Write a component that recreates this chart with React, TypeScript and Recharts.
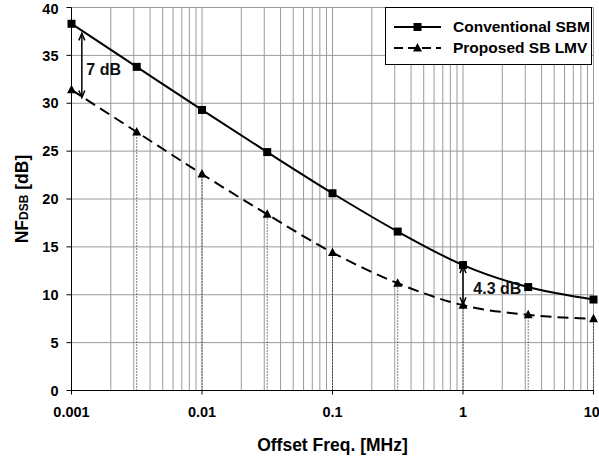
import React from 'react';
import { ComposedChart, Line, XAxis, YAxis, CartesianGrid, ReferenceLine, ReferenceDot, Legend, Label } from 'recharts';

const freqs = [0.001, 0.00316, 0.01, 0.0316, 0.1, 0.316, 1, 3.16, 10];
const conventionalSbm = [38.3, 33.8, 29.3, 24.9, 20.6, 16.6, 13.1, 10.8, 9.5];
const proposedSbLmv = [31.4, 27.0, 22.6, 18.4, 14.4, 11.2, 8.9, 7.9, 7.5];
const xTicks = [0.001, 0.01, 0.1, 1, 10];
const yTicks = [0, 5, 10, 15, 20, 25, 30, 35, 40];
const decades = [0.001, 0.01, 0.1, 1];
const minorSteps = [2, 3, 4, 5, 6, 7, 8, 9];

const data = freqs.map((f, i) => ({ freq: f, conventional: conventionalSbm[i], proposed: proposedSbLmv[i] }));
const gridFreqs = [...decades.flatMap((d) => minorSteps.map((m) => +(d * m).toPrecision(3))), ...decades.slice(1), 10];

const FONT = '"Liberation Sans", Arial, sans-serif';

const SquareDot = (props: any) => {
  const { cx, cy, index } = props;
  if (cx == null || cy == null) return <g key={index} />;
  return <rect key={index} x={cx - 4} y={cy - 4} width={8} height={8} fill="#000" />;
};

const TriangleDot = (props: any) => {
  const { cx, cy, index } = props;
  if (cx == null || cy == null) return <g key={index} />;
  return <polygon key={index} points={`${cx},${cy - 5} ${cx + 4.5},${cy + 3.5} ${cx - 4.5},${cy + 3.5}`} fill="#000" />;
};

const DoubleArrow = (props: any) => {
  const { x1, y1, y2 } = props;
  const top = Math.min(y1, y2);
  const bot = Math.max(y1, y2);
  return (
    <g stroke="#000" strokeWidth={1.5} fill="none">
      <line x1={x1} y1={top} x2={x1} y2={bot} />
      <polyline points={`${x1 - 3},${top + 7} ${x1},${top} ${x1 + 3},${top + 7}`} />
      <polyline points={`${x1 - 3},${bot - 7} ${x1},${bot} ${x1 + 3},${bot - 7}`} />
    </g>
  );
};

const noteText = (text: string) => (props: any) => (
  <text x={props.cx} y={props.cy} fontFamily={FONT} fontWeight="bold" fontSize={16} fill="#111">
    {text}
  </text>
);

const series = [
  { key: 'conventional', name: 'Conventional SBM', dash: undefined, marker: 'square' },
  { key: 'proposed', name: 'Proposed SB LMV', dash: '10 5', marker: 'triangle' },
];

const renderLegend = () => (
  <div style={{ width: 205, height: 56, border: '1px solid #000', background: '#fff', fontFamily: FONT, fontWeight: 'bold', fontSize: 15.5, boxSizing: 'content-box' }}>
    {series.map((s, i) => (
      <div key={s.key} style={{ display: 'flex', alignItems: 'center', height: 21, marginTop: i === 0 ? 8 : 0 }}>
        <svg width={60} height={14} style={{ marginLeft: 7 }}>
          <line x1={1} y1={7} x2={48} y2={7} stroke="#000" strokeWidth={2} strokeDasharray={s.dash ? '9 5' : undefined} />
          {s.marker === 'square' ? (
            <rect x={20.5} y={3} width={8} height={8} fill="#000" />
          ) : (
            <polygon points="24.5,2 29,10.5 20,10.5" fill="#000" />
          )}
        </svg>
        <span style={{ color: '#000' }}>{s.name}</span>
      </div>
    ))}
  </div>
);

export default function App() {
  return (
    <div style={{ position: 'absolute', left: 0, top: 0, background: '#fff' }}>
      <ComposedChart width={599} height={461} data={data} margin={{ top: 7.5, right: 5.5, left: 0, bottom: 0 }}>
        <CartesianGrid stroke="#9a9a9a" vertical={false} />
        <XAxis
          dataKey="freq"
          type="number"
          scale="log"
          domain={[0.001, 10]}
          ticks={xTicks}
          tickFormatter={(v) => String(v)}
          height={70.5}
          tickSize={4}
          tickMargin={12}
          stroke="#000"
          tick={{ fontFamily: FONT, fontWeight: 'bold', fontSize: 14.5, fill: '#000' }}
        >
          <Label
            content={(p: any) => (
              <text x={p.viewBox.x + p.viewBox.width / 2} y={451} textAnchor="middle" fontFamily={FONT} fontWeight="bold" fontSize={17.5} fill="#000">
                Offset Freq. [MHz]
              </text>
            )}
          />
        </XAxis>
        <YAxis
          type="number"
          domain={[0, 40]}
          ticks={yTicks}
          width={71.5}
          tickSize={5}
          tickMargin={8}
          stroke="#000"
          tick={{ fontFamily: FONT, fontWeight: 'bold', fontSize: 14.5, fill: '#000' }}
        >
          <Label
            content={(p: any) => {
              const x = 28;
              const y = p.viewBox.y + p.viewBox.height / 2;
              return (
                <text x={x} y={y} transform={`rotate(-90, ${x}, ${y})`} textAnchor="middle" fontFamily={FONT} fontWeight="bold" fontSize={17.5} fill="#000">
                  NF<tspan fontSize={12}>DSB</tspan> [dB]
                </text>
              );
            }}
          />
        </YAxis>
        {gridFreqs.map((f) => (
          <ReferenceLine key={`grid-${f}`} x={f} stroke="#9a9a9a" strokeWidth={1} />
        ))}
        {freqs.map((f, i) => (
          <ReferenceLine
            key={`drop-${f}`}
            segment={[{ x: f, y: 0 }, { x: f, y: proposedSbLmv[i] }]}
            stroke="#000"
            strokeWidth={1}
            strokeDasharray="1 2"
          />
        ))}
        <ReferenceLine segment={[{ x: 0.0012, y: 37.3 }, { x: 0.0012, y: 30.6 }]} shape={DoubleArrow} />
        <ReferenceLine segment={[{ x: 1, y: 13.0 }, { x: 1, y: 9.0 }]} shape={DoubleArrow} />
        <ReferenceDot x={0.0013} y={33.0} r={0} shape={noteText('7 dB')} />
        <ReferenceDot x={1.2} y={10.1} r={0} shape={noteText('4.3 dB')} />
        <Line
          dataKey="conventional"
          name="Conventional SBM"
          type="monotone"
          stroke="#000"
          strokeWidth={2}
          dot={SquareDot}
          activeDot={false}
          isAnimationActive={false}
        />
        <Line
          dataKey="proposed"
          name="Proposed SB LMV"
          type="monotone"
          stroke="#000"
          strokeWidth={2}
          strokeDasharray="11 6"
          dot={TriangleDot}
          activeDot={false}
          isAnimationActive={false}
        />
        <Legend
          layout="horizontal"
          align="center"
          verticalAlign="middle"
          content={renderLegend}
          wrapperStyle={{ position: 'absolute', left: 385, top: 7, width: 'auto', height: 'auto' }}
        />
      </ComposedChart>
    </div>
  );
}
